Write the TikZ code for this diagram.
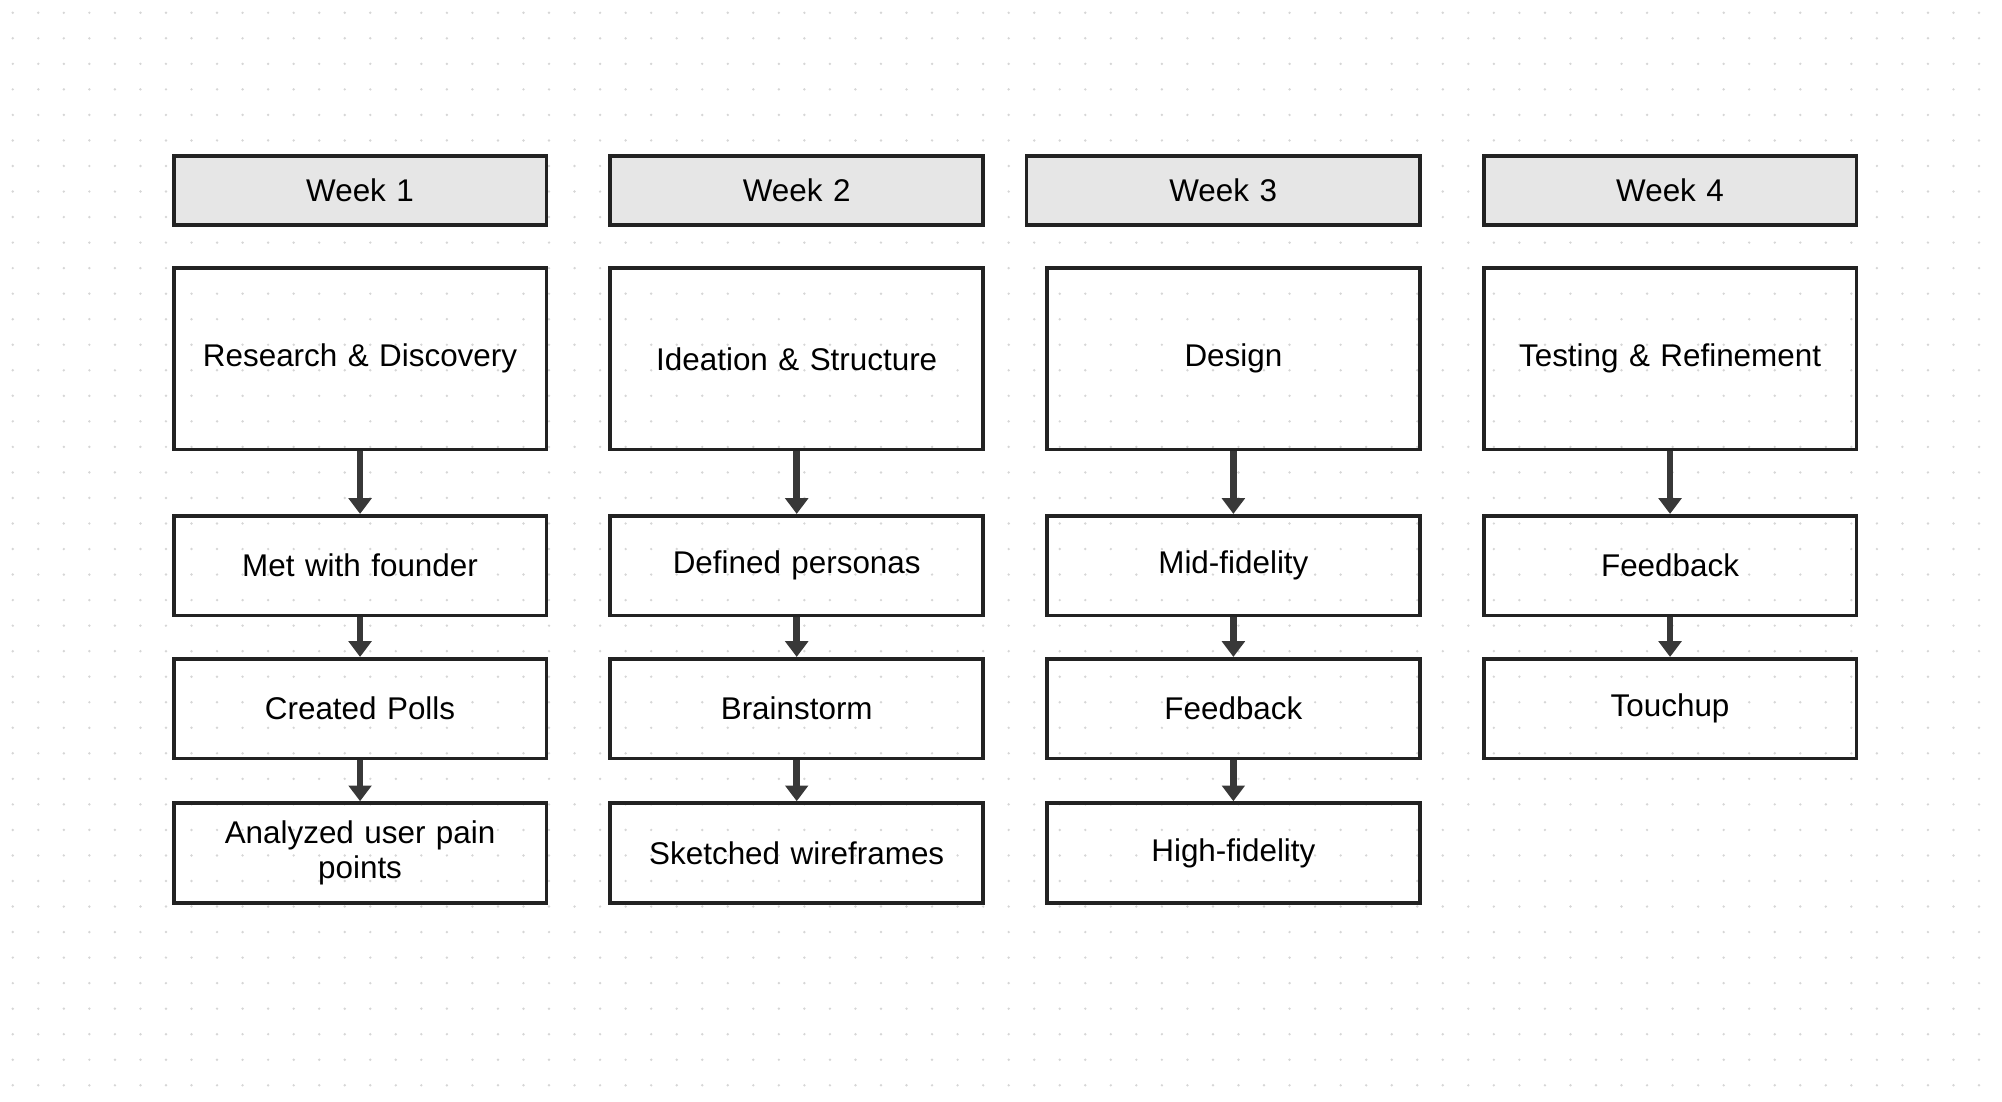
\documentclass[tikz,border=0pt]{standalone}
\usepackage{fontspec}
\setmainfont{Liberation Sans}
\usetikzlibrary{arrows.meta}
\definecolor{hdrgray}{HTML}{E6E6E6}
\definecolor{linegray}{HTML}{222222}
\definecolor{dotgray}{HTML}{D6D6D6}
\tikzset{
  box/.style={draw=linegray, line width=1.7pt, minimum width=5.84cm, align=center,
    text width=5.4cm, inner sep=0pt, font=\fontsize{14}{16}\selectfont},
  task/.style={box, minimum height=1.56cm},
  phase/.style={box, minimum height=2.84cm},
  week/.style={box, fill=hdrgray, minimum height=1.08cm},
  flow/.style={draw=linegray!90, line width=3pt, -{Triangle[width=10pt,length=7pt]}}
}
\begin{document}
\begin{tikzpicture}[x=0.02cm,y=-0.02cm]
	\useasboundingbox (0,0) rectangle (1568,863);
	% dotted grid background
	\foreach \gx in {10,30,...,1560}
	  \foreach \gy in {10,30,...,860}
	    \fill[dotgray] (\gx,\gy) circle (0.6pt);
	% week headers
	\node[week] (w1) at (282,149) {Week 1};
	\node[week] (w2) at (624,149) {Week 2};
	\node[week, minimum width=6.16cm] (w3) at (958,149) {Week 3};
	\node[week] (w4) at (1308,149) {Week 4};
	% phases
	\node[phase] (p1) at (282,281) {Research \& Discovery};
	\node[phase] (p2) at (624,281) {Ideation \& Structure};
	\node[phase] (p3) at (966,281) {Design};
	\node[phase] (p4) at (1308,281) {Testing \& Refinement};
	% week 1 tasks
	\node[task] (a1) at (282,443) {Met with founder};
	\node[task] (a2) at (282,555) {Created Polls};
	\node[task] (a3) at (282,668) {Analyzed user pain\\points};
	% week 2 tasks
	\node[task] (b1) at (624,443) {Defined personas};
	\node[task] (b2) at (624,555) {Brainstorm};
	\node[task] (b3) at (624,668) {Sketched wireframes};
	% week 3 tasks
	\node[task] (c1) at (966,443) {Mid-fidelity};
	\node[task] (c2) at (966,555) {Feedback};
	\node[task] (c3) at (966,668) {High-fidelity};
	% week 4 tasks
	\node[task] (d1) at (1308,443) {Feedback};
	\node[task] (d2) at (1308,555) {Touchup};
	% arrows
	\draw[flow] (p1) -- (a1);
	\draw[flow] (a1) -- (a2);
	\draw[flow] (a2) -- (a3);
	\draw[flow] (p2) -- (b1);
	\draw[flow] (b1) -- (b2);
	\draw[flow] (b2) -- (b3);
	\draw[flow] (p3) -- (c1);
	\draw[flow] (c1) -- (c2);
	\draw[flow] (c2) -- (c3);
	\draw[flow] (p4) -- (d1);
	\draw[flow] (d1) -- (d2);
\end{tikzpicture}
\end{document}
